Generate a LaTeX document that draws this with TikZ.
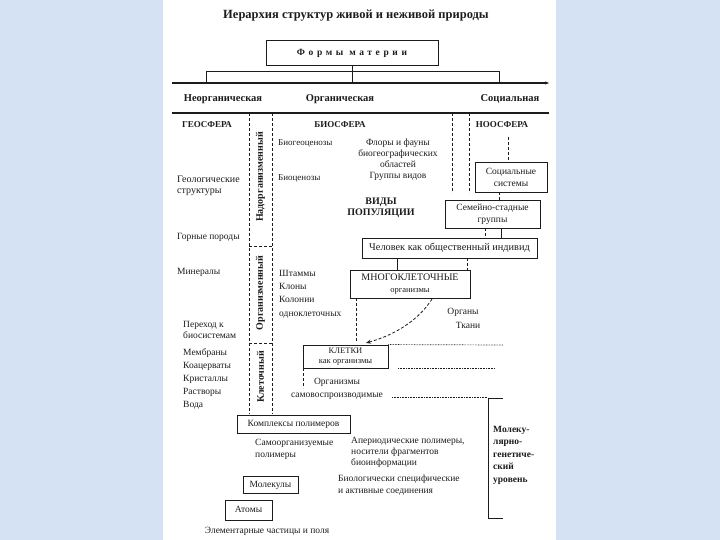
\documentclass[tikz,border=0pt]{standalone}
\usepackage{fontspec}
\setmainfont{Liberation Serif}
\usetikzlibrary{arrows.meta}
\definecolor{bgblue}{RGB}{212,226,244}
\definecolor{ink}{RGB}{28,28,28}
\newcommand{\fs}[2]{\fontsize{#1}{#2}\selectfont}
\tikzset{
  box/.style={draw=ink, line width=0.9pt, fill=white, inner sep=0pt, align=center, text=ink, font=\fs{9.5}{10}},
  onel/.style={text height=1.45ex, text depth=0.25ex},
  txt/.style={inner sep=0pt, text=ink, font=\fs{9.5}{11}},
  btxt/.style={inner sep=0pt, text=ink, font=\bfseries\fs{10.5}{11}},
  solidln/.style={draw=ink, line width=0.8pt},
  dsh/.style={draw=ink, line width=0.8pt, dash pattern=on 3pt off 2pt},
  dotln/.style={draw=ink, line width=0.7pt, dash pattern=on 0.7pt off 0.9pt},
}
\begin{document}
\begin{tikzpicture}[x=1pt,y=-1pt]
\useasboundingbox (0,0) rectangle (720,540);
\fill[bgblue] (0,0) rectangle (720,540);
\fill[white] (163,0) rectangle (556,540);

% title
\node[inner sep=0pt, text=ink, font=\bfseries\fs{12.5}{14}] (title) at (356,16) {Иерархия структур живой и неживой природы};

% forms of matter
\node[box, onel, minimum width=172pt, minimum height=25pt, font=\bfseries\fs{9.5}{10}\addfontfeature{LetterSpace=38}] (forms) at (352,52.5) {Формы материи};
\coordinate (axL) at (172,83);
\coordinate (axR) at (549,83);
\coordinate (brL) at (206,71);
\coordinate (brR) at (499,71);
\draw[solidln] (brL |- axL) -- (brL) -- (brR) -- (brR |- axL);
\draw[solidln] (forms.south) -- (forms.south |- axL);
\draw[ink, line width=1.1pt, -{Stealth[length=4pt,width=3pt]}] (axL) -- (axR);

\node[btxt] (inorg) at (223,99) {Неорганическая};
\node[btxt] (org) at (340,99) {Органическая};
\node[btxt] (soci) at (510,99) {Социальная};

\coordinate (l2L) at (172,113);
\coordinate (l2R) at (549,113);
\draw[ink, line width=1.5pt] (l2L) -- (l2R);

% spheres
\node[btxt, font=\bfseries\fs{9}{10}] (geo) at (207,125) {ГЕОСФЕРА};
\node[btxt, font=\bfseries\fs{9}{10}] (bio) at (340,125) {БИОСФЕРА};
\node[btxt, font=\bfseries\fs{9}{10}] (noo) at (502,125) {НООСФЕРА};

% level column
\coordinate (vA) at (249,113);
\coordinate (vB) at (272,113);
\coordinate (vAe) at (249,414);
\coordinate (vBe) at (272,414);
\draw[dsh] (vA) -- (vAe);
\draw[dsh] (vB) -- (vBe);
\draw[dsh] (249,246) coordinate (h1) -- (h1 -| vB);
\draw[dsh] (249,343) coordinate (h2) -- (h2 -| vB);
\node[btxt, font=\bfseries\fs{10}{11}, rotate=90] (nadorg) at (260.5,177) {Надорганизменный};
\node[btxt, font=\bfseries\fs{10}{11}, rotate=90] (orgl) at (260.5,293) {Организменный};
\node[btxt, font=\bfseries\fs{10}{11}, rotate=90] (kletl) at (260.5,377) {Клеточный};

% bio/noo separators
\draw[dsh] (452,113) coordinate (s1) -- (452,193);
\draw[dsh] (469,113) coordinate (s2) -- (469,193);

% left column texts
\node[txt, anchor=west, align=left, font=\fs{10}{11}] (geol) at (177,185.5) {Геологические\\структуры};
\node[txt, anchor=west] (gorn) at (177,237) {Горные породы};
\node[txt, anchor=west] (miner) at (177,272) {Минералы};
\node[txt, anchor=west, align=left] (pereh) at (183,329.5) {Переход к\\биосистемам};
\node[txt, anchor=west, align=left, font=\fs{9.5}{13}] (membr) at (183,379) {Мембраны\\Коацерваты\\Кристаллы\\Растворы\\Вода};

% biosphere texts
\node[txt, anchor=west, font=\fs{9}{11}] (biogeo) at (278,143) {Биогеоценозы};
\node[txt, anchor=west, font=\fs{9}{11}] (biocen) at (278,178) {Биоценозы};
\node[txt, align=center] (flory) at (398,159.5) {Флоры и фауны\\биогеографических\\областей\\Группы видов};
\node[btxt, align=center, font=\bfseries\fs{10}{11}] (vidy) at (381,208) {ВИДЫ\\ПОПУЛЯЦИИ};
\node[txt, anchor=west, align=left, font=\fs{9.5}{13.3}] (shtam) at (279,294) {Штаммы\\Клоны\\Колонии\\одноклеточных};
\node[txt] (organy) at (463,312) {Органы};
\node[txt] (tkani) at (468,325) {Ткани};

% boxes chain
\node[box, minimum width=72pt, minimum height=30pt, font=\fs{9.5}{12}] (socsys) at (511,177) {Социальные\\системы};
\node[box, minimum width=95pt, minimum height=28pt, font=\fs{9.5}{12}] (semst) at (492.5,214) {Семейно-стадные\\группы};
\node[box, onel, minimum width=175pt, minimum height=20pt, font=\fs{10.3}{11}] (chel) at (449.5,248) {Человек как общественный индивид};
\node[box, minimum width=120pt, minimum height=28pt, font=\fs{10}{12}] (mnogo) at (410,284) {МНОГОКЛЕТОЧНЫЕ\\{\fs{8.5}{10}организмы}};
\node[box, minimum width=85pt, minimum height=23pt, font=\fs{8.5}{10}] (kletki) at (345.5,356.5) {КЛЕТКИ\\как организмы};

\draw[dsh] (508,137) coordinate (n1) -- (n1 |- socsys.north);
\draw[dsh] (socsys.south -| 499,0) -- (semst.north -| 499,0);
\draw[dsh] (semst.south -| 485,0) -- (chel.north -| 485,0);
\draw[solidln] (semst.south -| 501,0) -- (chel.north -| 501,0);
\draw[solidln] (chel.south -| 397,0) -- (mnogo.north -| 397,0);
\draw[dsh] (chel.south -| 467,0) -- (mnogo.north -| 467,0);
\draw[dsh] (mnogo.south -| 356,0) -- (356,343);
\draw[dsh, -{Stealth[length=5pt,width=4pt]}] (432,299) .. controls (420,318) and (398,334) .. (366,343);
\draw[dsh] (kletki.south west) ++(1,0) -- ++(0,20);

% dotted lines
\draw[dotln] (kletki.north east) -- (503,345);
\draw[dotln] (398,368) -- (495,368);
\draw[dotln] (392,397) -- (488,397);
\draw[solidln] (503,398) -- (488,398) -- (488,518) -- (503,518);

\node[txt, align=center, font=\fs{9.5}{13}] (orgsam) at (337,388.5) {Организмы\\самовоспроизводимые};

% lower part
\node[box, onel, minimum width=113pt, minimum height=18pt] (kompl) at (293.5,424) {Комплексы полимеров};
\node[txt, anchor=west, align=left, font=\fs{9.5}{12}] (samoorg) at (255,449) {Самоорганизуемые\\полимеры};
\node[txt, anchor=west, align=left, font=\fs{9.5}{11}] (aper) at (351,452) {Апериодические полимеры,\\носители фрагментов\\биоинформации};
\node[txt, anchor=west, align=left, font=\fs{9.5}{12}] (biol) at (338,485.5) {Биологически специфические\\и активные соединения};
\node[btxt, anchor=west, align=left, font=\bfseries\fs{9.5}{12.5}] (molgen) at (493,455) {Молеку-\\лярно-\\генетиче-\\ский\\уровень};
\node[box, onel, minimum width=55pt, minimum height=17pt] (molek) at (270.5,484.5) {Молекулы};
\node[box, onel, minimum width=47pt, minimum height=20pt] (atomy) at (248.5,510) {Атомы};
\node[txt] (elem) at (267,531) {Элементарные частицы и поля};
\end{tikzpicture}
\end{document}
